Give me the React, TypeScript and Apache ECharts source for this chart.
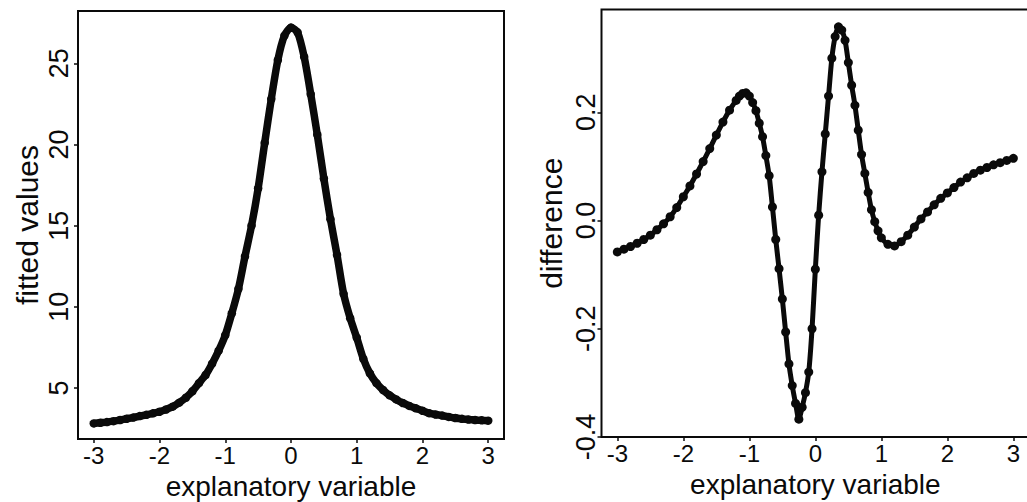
import React, { useEffect, useRef } from "react";
import * as echarts from "echarts";

// ---- data ----
const xTicks = [-3, -2, -1, 0, 1, 2, 3];
const leftYTicks = [5, 10, 15, 20, 25];
const rightYTicks = [-0.4, -0.2, 0, 0.2];

const leftX = [
  -3.0, -2.9, -2.8, -2.7, -2.6, -2.5, -2.4, -2.3, -2.2, -2.1, -2.0, -1.9, -1.8, -1.7, -1.6,
  -1.5, -1.4, -1.3, -1.2, -1.1, -1.0, -0.9, -0.8, -0.7, -0.6, -0.5, -0.4, -0.3, -0.2, -0.1,
  0.0, 0.1, 0.2, 0.3, 0.4, 0.5, 0.6, 0.7, 0.8, 0.9, 1.0, 1.1, 1.2, 1.3, 1.4, 1.5, 1.6, 1.7,
  1.8, 1.9, 2.0, 2.1, 2.2, 2.3, 2.4, 2.5, 2.6, 2.7, 2.8, 2.9, 3.0,
];
const leftFitted = [
  2.82, 2.86, 2.9, 2.96, 3.03, 3.11, 3.18, 3.27, 3.35, 3.44, 3.54, 3.68, 3.85, 4.1, 4.4,
  4.8, 5.3, 5.8, 6.5, 7.3, 8.25, 9.6, 11.1, 13.1, 15.0, 17.3, 20.1, 22.8, 25.2, 26.7,
  27.2, 26.9, 25.4, 23.1, 20.6, 17.9, 15.4, 13.2, 10.8, 9.3, 8.1, 6.8, 5.9, 5.3, 4.88, 4.55,
  4.3, 4.08, 3.9, 3.75, 3.6, 3.45, 3.37, 3.3, 3.22, 3.15, 3.1, 3.06, 3.03, 3.01, 2.99,
];

const rightX = [
  -3.0, -2.9, -2.8, -2.7, -2.6, -2.5, -2.4, -2.3, -2.2, -2.1, -2.0, -1.9, -1.8, -1.7, -1.6,
  -1.5, -1.4, -1.3, -1.2, -1.15, -1.1, -1.05, -1.0, -0.95, -0.9, -0.85, -0.8, -0.75, -0.7,
  -0.65, -0.6, -0.55, -0.5, -0.45, -0.4, -0.35, -0.3, -0.25, -0.2, -0.15, -0.1, -0.05, 0.0,
  0.05, 0.1, 0.15, 0.2, 0.25, 0.3, 0.35, 0.4, 0.45, 0.5, 0.55, 0.6, 0.65, 0.7, 0.75, 0.8,
  0.85, 0.9, 0.95, 1.0, 1.1, 1.2, 1.3, 1.4, 1.5, 1.6, 1.7, 1.8, 1.9, 2.0, 2.1, 2.2, 2.3,
  2.4, 2.5, 2.6, 2.7, 2.8, 2.9, 3.0,
];
const rightDiff = [
  -0.058, -0.053, -0.048, -0.042, -0.035, -0.027, -0.017, -0.006, 0.007, 0.024, 0.044,
  0.064, 0.086, 0.109, 0.133, 0.158, 0.182, 0.204, 0.222, 0.23, 0.235, 0.236, 0.23, 0.218,
  0.203, 0.18, 0.155, 0.12, 0.083, 0.025, -0.035, -0.089, -0.145, -0.206, -0.265, -0.305,
  -0.338, -0.367, -0.345, -0.318, -0.28, -0.2, -0.09, 0.01, 0.09, 0.16, 0.23, 0.3, 0.34,
  0.358, 0.352, 0.333, 0.292, 0.25, 0.213, 0.167, 0.122, 0.087, 0.052, 0.02, -0.002,
  -0.019, -0.032, -0.044, -0.047, -0.039, -0.027, -0.012, 0.003, 0.016, 0.029, 0.041,
  0.051, 0.061, 0.071, 0.079, 0.087, 0.093, 0.098, 0.103, 0.107, 0.111, 0.115,
];

const FONT = "'Liberation Sans', Arial, Helvetica, sans-serif";
const INK = "#0a0a0a";

function xAxisCfg(gridIndex: number) {
  return {
    type: "value",
    gridIndex,
    min: -3.24,
    max: 3.24,
    name: "explanatory variable",
    nameLocation: "middle",
    nameGap: 33,
    nameMoveOverlap: false,
    nameTextStyle: { fontFamily: FONT, fontSize: 28, color: INK },
    axisLine: { show: false, onZero: false },
    splitLine: { show: false },
    axisTick: {
      show: true,
      inside: false,
      length: 4,
      customValues: xTicks,
      lineStyle: { color: INK, width: 1.5 },
    },
    axisLabel: {
      customValues: xTicks,
      margin: 4.5,
      fontFamily: FONT,
      fontSize: 24,
      color: INK,
      formatter: (v: number) => String(v),
    },
  };
}

export default function App() {
  const ref = useRef<HTMLDivElement>(null);
  useEffect(() => {
    const chart = echarts.init(ref.current!, null, { renderer: "svg" });
    chart.setOption({
      animation: false,
      backgroundColor: "#ffffff",
      grid: [
        {
          left: 78, top: 11, width: 426, height: 428,
          outerBoundsMode: "none", containLabel: false,
          show: true, borderColor: INK, borderWidth: 2, backgroundColor: "transparent",
        },
        {
          left: 601.5, top: 9.5, width: 427.7, height: 427.5,
          outerBoundsMode: "none", containLabel: false,
          show: true, borderColor: INK, borderWidth: 2, backgroundColor: "transparent",
        },
      ],
      xAxis: [xAxisCfg(0), xAxisCfg(1)],
      yAxis: [
        {
          type: "value",
          gridIndex: 0,
          min: 1.86,
          max: 28.22,
          name: "fitted values",
          nameLocation: "middle",
          nameGap: 36,
          nameTextStyle: { fontFamily: FONT, fontSize: 30, color: INK },
          axisLine: { show: false, onZero: false },
          splitLine: { show: false },
          axisTick: { show: true, inside: false, length: 4, customValues: leftYTicks, lineStyle: { color: INK, width: 1.5 } },
          axisLabel: {
            customValues: leftYTicks,
            rotate: 90,
            margin: 6,
            fontFamily: FONT,
            fontSize: 27,
            color: INK,
            formatter: (v: number) => String(v),
          },
        },
        {
          type: "value",
          gridIndex: 1,
          min: -0.4,
          max: 0.39,
          name: "difference",
          nameLocation: "middle",
          nameGap: 35,
          nameTextStyle: { fontFamily: FONT, fontSize: 30, color: INK },
          axisLine: { show: false, onZero: false },
          splitLine: { show: false },
          axisTick: { show: true, inside: false, length: 4, customValues: rightYTicks, lineStyle: { color: INK, width: 1.5 } },
          axisLabel: {
            customValues: rightYTicks,
            rotate: 90,
            margin: 2,
            fontFamily: FONT,
            fontSize: 27,
            color: INK,
            formatter: (v: number) => v.toFixed(1),
          },
        },
      ],
      series: [
        {
          type: "line",
          xAxisIndex: 0,
          yAxisIndex: 0,
          data: leftX.map((x, i) => [x, leftFitted[i]]),
          smooth: 0.25,
          symbol: "circle",
          symbolSize: 8.5,
          showAllSymbol: true,
          lineStyle: { color: INK, width: 7.5 },
          itemStyle: { color: INK },
        },
        {
          type: "line",
          xAxisIndex: 1,
          yAxisIndex: 1,
          data: rightX.map((x, i) => [x, rightDiff[i]]),
          smooth: 0.25,
          symbol: "circle",
          symbolSize: 9,
          showAllSymbol: true,
          lineStyle: { color: INK, width: 5 },
          itemStyle: { color: INK },
        },
      ],
    });
    return () => chart.dispose();
  }, []);
  return (
    <div
      ref={ref}
      style={{ position: "absolute", left: 0, top: 0, width: 1027, height: 502, background: "#fff" }}
    />
  );
}
